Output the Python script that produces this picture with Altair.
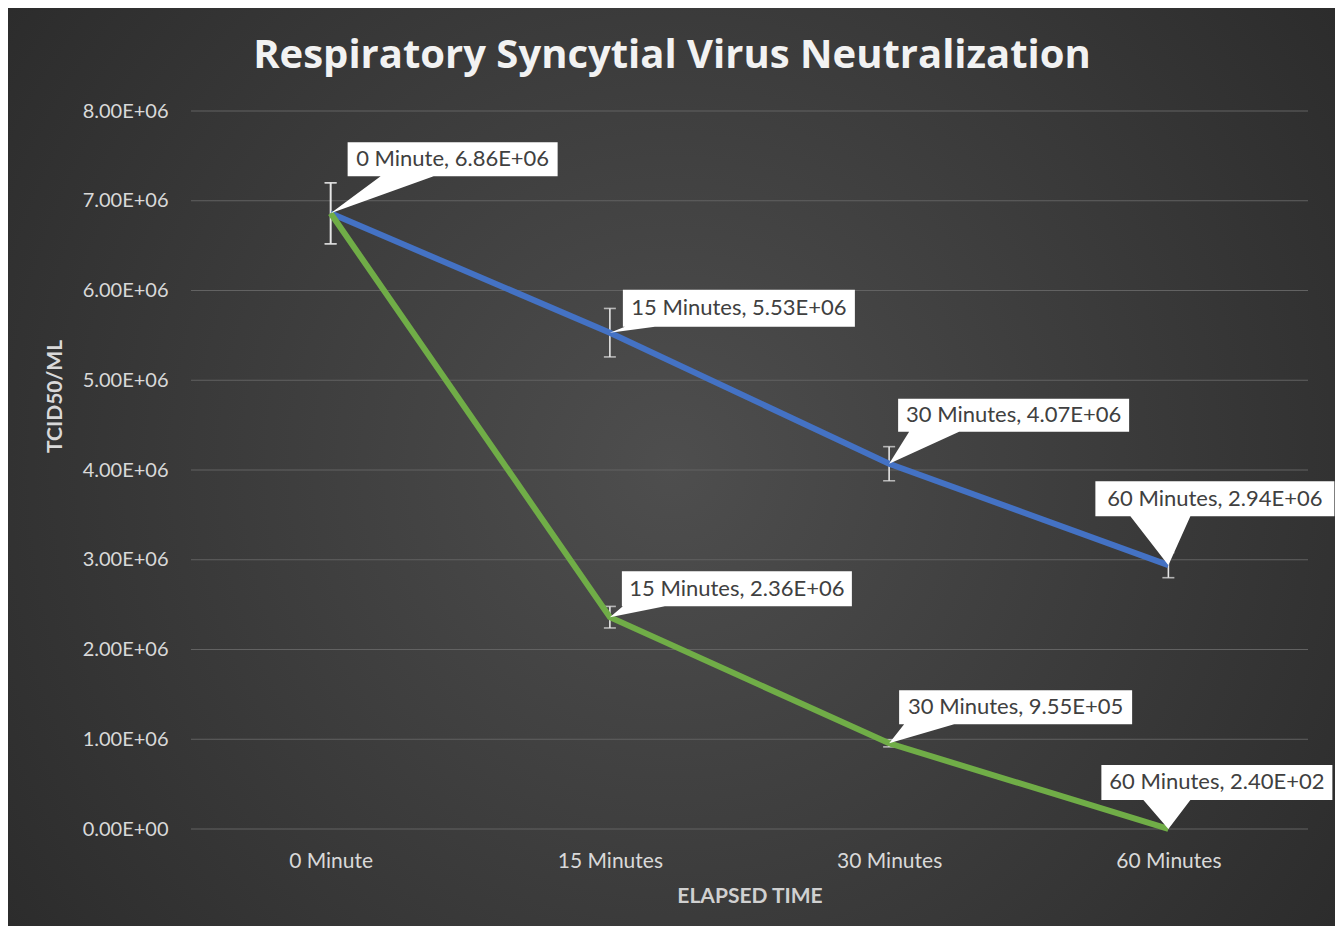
import json
import altair as alt
import pandas as pd

# ---------------- data ----------------
categories = ["0 Minute", "15 Minutes", "30 Minutes", "60 Minutes"]
values_a = [6.86e6, 5.53e6, 4.07e6, 2.94e6]
values_b = [6.86e6, 2.36e6, 9.55e5, 2.40e2]
errors_a = [0.34e6, 0.27e6, 0.19e6, 0.14e6]
errors_b = [0.34e6, 0.12e6, 0.04e6, 0.0]
labels_a = ["0 Minute, 6.86E+06", "15 Minutes, 5.53E+06", "30 Minutes, 4.07E+06", "60 Minutes, 2.94E+06"]
labels_b = [None, "15 Minutes, 2.36E+06", "30 Minutes, 9.55E+05", "60 Minutes, 2.40E+02"]
y_ticks = [0, 1e6, 2e6, 3e6, 4e6, 5e6, 6e6, 7e6, 8e6]
title_text = "Respiratory Syncytial Virus Neutralization"

# ---------------- layout (pixels, relative to the data point) ----------------
PLOT_W, PLOT_H = 1117, 718
Y_MAX = 8e6
# left, top, right, bottom of the box, then wedge base x1, x2 on bottom edge
callout_layout = {
    ("Series A", 0): (17, -71, 227, -37, 50, 103),
    ("Series A", 1): (13, -43, 245, -6, 15, 45),
    ("Series A", 2): (9, -65, 240, -32, 20, 70),
    ("Series A", 3): (-73, -84, 166, -49, -38, 22),
    ("Series B", 1): (12, -46, 242, -11, 13, 55),
    ("Series B", 2): (10, -53, 243, -19, 15, 65),
    ("Series B", 3): (-67, -64, 164, -29, -25, 22),
}

px_x = PLOT_W / len(categories)
px_y = PLOT_H / Y_MAX

rows, err_rows, call_rows = [], [], []
for name, vals, errs, labs in [("Series A", values_a, errors_a, labels_a),
                               ("Series B", values_b, errors_b, labels_b)]:
    for i, (v, e, lab) in enumerate(zip(vals, errs, labs)):
        rows.append({"series": name, "idx": i, "value": v})
        if e > 0:
            err_rows.append({"series": name, "idx": i, "lo": v - e, "hi": v + e})
        if lab is not None:
            l, t, r, b, b1, b2 = callout_layout[(name, i)]
            path = f"M{l},{t}L{r},{t}L{r},{b}L{b2},{b}L0,0L{b1},{b}L{l},{b}Z"
            cx, cy = (l + r) / 2, (t + b) / 2
            call_rows.append({"series": name, "idx": i, "value": v, "label": lab, "path": path,
                              "tx": i + cx / px_x, "ty": v - cy / px_y})

df = pd.DataFrame(rows)
df_err = pd.DataFrame(err_rows)
df_call = pd.DataFrame(call_rows)
df_grid = pd.DataFrame({"value": y_ticks})

x_label_expr = json.dumps(categories) + "[datum.value]"

x_scale = alt.Scale(domain=[-0.5, len(categories) - 0.5], nice=False, zero=False)
y_scale = alt.Scale(domain=[0, Y_MAX], nice=False)

x_axis = alt.Axis(values=list(range(len(categories))), labelExpr=x_label_expr,
                  grid=False, ticks=False, domain=False, title="ELAPSED TIME",
                  labelFont="Lato", labelFontSize=21, labelColor="#d9d9d9",
                  labelPadding=21, titleFont="Lato", titleFontSize=21,
                  titleFontWeight="bold", titleColor="#d0d0d0", titlePadding=14,
                  zindex=2)
y_axis = alt.Axis(values=y_ticks,
                  labelExpr="datum.value == 0 ? '0.00E+00' : format(datum.value / 1000000, '.2f') + 'E+06'",
                  grid=False, ticks=False, domain=False,
                  title="TCID50/ML", labelFont="Lato", labelFontSize=20,
                  labelColor="#d9d9d9", labelPadding=23, titleFont="Lato",
                  titleFontSize=21, titleFontWeight="bold", titleColor="#d9d9d9",
                  titlePadding=17, titleY=285, zindex=2)

x_enc = alt.X("idx:Q", scale=x_scale, axis=x_axis)
y_enc = alt.Y("value:Q", scale=y_scale, axis=y_axis)

bg = alt.Chart(pd.DataFrame({"a": [0]})).mark_rect(
    fill={"gradient": "radial", "x1": 0.5, "y1": 0.5, "r1": 0, "x2": 0.5, "y2": 0.5, "r2": 0.75,
          "stops": [{"offset": 0, "color": "#4e4e4e"}, {"offset": 1, "color": "#242424"}]}
).encode(x=alt.value(-183), x2=alt.value(1144), y=alt.value(-103), y2=alt.value(815))

title = alt.Chart(pd.DataFrame({"t": [title_text]})).mark_text(
    font="Open Sans", fontSize=40, fontWeight="bold", color="#f2f2f2", align="center",
    baseline="middle").encode(text="t:N", x=alt.value(481), y=alt.value(-55))

grid = alt.Chart(df_grid).mark_rule(color="#626262", strokeWidth=1).encode(
    y=y_enc, x=alt.value(0), x2=alt.value(PLOT_W))

base = alt.Chart(df)

err_rule = alt.Chart(df_err).mark_rule(color="#e6e6e6", strokeWidth=1.6).encode(
    x=x_enc, y=alt.Y("lo:Q", scale=y_scale, axis=y_axis), y2="hi:Q")
err_lo = alt.Chart(df_err).mark_tick(color="#e6e6e6", orient="horizontal", size=12, thickness=1.6).encode(
    x=x_enc, y=alt.Y("lo:Q", scale=y_scale, axis=y_axis))
err_hi = alt.Chart(df_err).mark_tick(color="#e6e6e6", orient="horizontal", size=12, thickness=1.6).encode(
    x=x_enc, y=alt.Y("hi:Q", scale=y_scale, axis=y_axis))

line_a = base.transform_filter(alt.datum.series == "Series A").mark_line(
    color="#4472C4", strokeWidth=6).encode(x=x_enc, y=y_enc)
line_b = base.transform_filter(alt.datum.series == "Series B").mark_line(
    color="#70AD47", strokeWidth=6).encode(x=x_enc, y=y_enc)

callout = alt.Chart(df_call).mark_point(filled=True, opacity=1, strokeWidth=0).encode(
    x=alt.X("idx:Q", scale=x_scale, axis=x_axis), y=alt.Y("value:Q", scale=y_scale, axis=y_axis),
    shape=alt.Shape("path:N", scale=None), size=alt.value(4), color=alt.value("#ffffff"))

callout_text = alt.Chart(df_call).mark_text(
    font="Lato", fontSize=22, color="#404040", align="center", baseline="middle").encode(
    x=alt.X("tx:Q", scale=x_scale, axis=x_axis), y=alt.Y("ty:Q", scale=y_scale, axis=y_axis),
    text="label:N")

chart = alt.layer(bg, title, grid, err_rule, err_lo, err_hi, line_a, line_b, callout, callout_text).properties(
    width=PLOT_W, height=PLOT_H,
    autosize=alt.AutoSizeParams(type="none"),
    padding={"left": 183, "top": 103, "right": 27, "bottom": 97},
    background="#333333",
).configure_view(stroke=None)

chart.save("out.html", embed_options={"renderer": "svg", "actions": False})
